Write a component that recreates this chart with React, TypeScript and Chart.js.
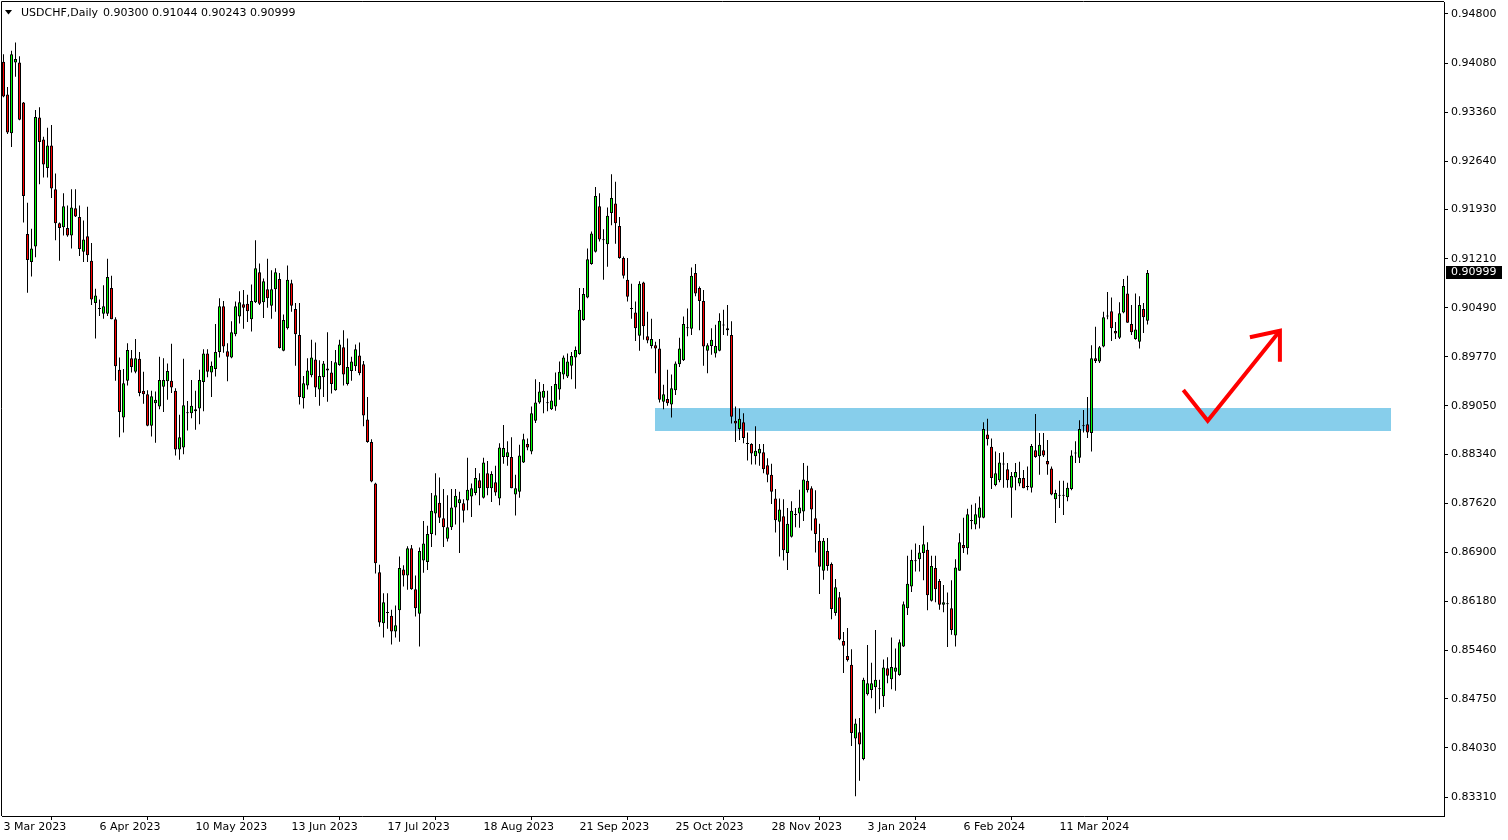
import React, { useEffect, useRef } from 'react';
import { Chart, registerables } from 'chart.js';

Chart.register(...registerables);

const symbolName = 'USDCHF,Daily';

const openP = [
  0.9410, 0.9362, 0.9305, 0.9409, 0.9409, 0.9350, 0.9157, 0.9116, 0.9139, 0.9328,
  0.9296, 0.9254, 0.9287, 0.9223, 0.9173, 0.9167, 0.9166, 0.9155, 0.9195, 0.9182,
  0.9131, 0.9154, 0.9118, 0.9056, 0.9048, 0.9040, 0.9040, 0.9078, 0.9032, 0.8958,
  0.8888, 0.8942, 0.8975, 0.8955, 0.8974, 0.8927, 0.8922, 0.8876, 0.8909, 0.8904,
  0.8933, 0.8941, 0.8942, 0.8927, 0.8841, 0.8844, 0.8895, 0.8894, 0.8900, 0.8901,
  0.8940, 0.8982, 0.8954, 0.8959, 0.8984, 0.9051, 0.8985, 0.8976, 0.9010, 0.9036,
  0.9054, 0.9055, 0.9032, 0.9057, 0.9101, 0.9057, 0.9076, 0.9052, 0.9076, 0.9091,
  0.8986, 0.9019, 0.9085, 0.9047, 0.9009, 0.8916, 0.8935, 0.8950, 0.8973, 0.8929,
  0.8947, 0.8960, 0.8954, 0.8928, 0.8965, 0.8991, 0.8937, 0.8956, 0.8963, 0.8979,
  0.8966, 0.8885, 0.8852, 0.8791, 0.8661, 0.8586, 0.8602, 0.8597, 0.8574, 0.8605,
  0.8665, 0.8656, 0.8696, 0.8636, 0.8600, 0.8678, 0.8676, 0.8717, 0.8747, 0.8763,
  0.8740, 0.8710, 0.8727, 0.8756, 0.8762, 0.8762, 0.8766, 0.8772, 0.8777, 0.8796,
  0.8770, 0.8806, 0.8784, 0.8793, 0.8769, 0.8830, 0.8830, 0.8830, 0.8775, 0.8779,
  0.8822, 0.8849, 0.8838, 0.8883, 0.8910, 0.8917, 0.8909, 0.8900, 0.8904, 0.8929,
  0.8951, 0.8948, 0.8964, 0.8976, 0.8981, 0.9031, 0.9064, 0.9113, 0.9131, 0.9198,
  0.9149, 0.9142, 0.9188, 0.9202, 0.9169, 0.9122, 0.9090, 0.9048, 0.9042, 0.9008,
  0.9086, 0.9007, 0.8993, 0.8994, 0.8989, 0.8911, 0.8915, 0.8907, 0.8928, 0.8966,
  0.8972, 0.9019, 0.9018, 0.9100, 0.9078, 0.9059, 0.8986, 0.8993, 0.8982, 0.8986,
  0.9024, 0.9019, 0.9009, 0.8883, 0.8871, 0.8881, 0.8850, 0.8849, 0.8831, 0.8835,
  0.8837, 0.8818, 0.8804, 0.8769, 0.8735, 0.8743, 0.8689, 0.8713, 0.8746, 0.8747,
  0.8750, 0.8795, 0.8784, 0.8740, 0.8707, 0.8663, 0.8692, 0.8673, 0.8601, 0.8624,
  0.8560, 0.8538, 0.8525, 0.8417, 0.8426, 0.8387, 0.8482, 0.8488, 0.8492, 0.8489,
  0.8479, 0.8520, 0.8504, 0.8515, 0.8510, 0.8552, 0.8608, 0.8640, 0.8678, 0.8680,
  0.8689, 0.8694, 0.8619, 0.8667, 0.8648, 0.8613, 0.8614, 0.8608, 0.8568, 0.8663,
  0.8701, 0.8696, 0.8736, 0.8731, 0.8741, 0.8741, 0.8863, 0.8845, 0.8789, 0.8796,
  0.8819, 0.8812, 0.8785, 0.8800, 0.8791, 0.8799, 0.8787, 0.8785, 0.8840, 0.8831,
  0.8840, 0.8824, 0.8813, 0.8768, 0.8773, 0.8774, 0.8771, 0.8783, 0.8835, 0.8829,
  0.8875, 0.8878, 0.8865, 0.8975, 0.8970, 0.8992, 0.9036, 0.9044, 0.9015, 0.9005,
  0.9042, 0.9070, 0.9025, 0.9003, 0.8999, 0.9047, 0.90300,
];

const highP = [
  0.9421, 0.9373, 0.9426, 0.9438, 0.9418, 0.9351, 0.9203, 0.9165, 0.9339, 0.9343,
  0.9300, 0.9313, 0.9317, 0.9246, 0.9174, 0.9217, 0.9199, 0.9223, 0.9223, 0.9199,
  0.9177, 0.9197, 0.9144, 0.9077, 0.9061, 0.9082, 0.9121, 0.9096, 0.9035, 0.8976,
  0.8959, 0.8997, 0.8987, 0.9003, 0.8984, 0.8955, 0.8928, 0.8927, 0.8926, 0.8977,
  0.8975, 0.8967, 0.8996, 0.8931, 0.8892, 0.8974, 0.8912, 0.8943, 0.8927, 0.8958,
  0.8988, 0.8988, 0.8970, 0.9025, 0.9063, 0.9059, 0.8997, 0.9029, 0.9058, 0.9073,
  0.9075, 0.9068, 0.9083, 0.9148, 0.9114, 0.9092, 0.9121, 0.9104, 0.9107, 0.9100,
  0.9039, 0.9111, 0.9090, 0.9056, 0.9056, 0.8949, 0.8975, 0.9002, 0.8998, 0.8972,
  0.8971, 0.9013, 0.8971, 0.8987, 0.9002, 0.9016, 0.9004, 0.8977, 0.8995, 0.8998,
  0.8971, 0.8918, 0.8856, 0.8792, 0.8672, 0.8630, 0.8630, 0.8606, 0.8612, 0.8684,
  0.8671, 0.8699, 0.8701, 0.8656, 0.8697, 0.8736, 0.8729, 0.8777, 0.8806, 0.8800,
  0.8783, 0.8774, 0.8783, 0.8783, 0.8779, 0.8768, 0.8829, 0.8791, 0.8814, 0.8806,
  0.8829, 0.8824, 0.8809, 0.8817, 0.8850, 0.8877, 0.8853, 0.8859, 0.8804, 0.8848,
  0.8864, 0.8857, 0.8904, 0.8944, 0.8940, 0.8937, 0.8927, 0.8934, 0.8954, 0.8970,
  0.8979, 0.8982, 0.8984, 0.8992, 0.9078, 0.9078, 0.9136, 0.9161, 0.9226, 0.9217,
  0.9164, 0.9196, 0.9245, 0.9234, 0.9182, 0.9124, 0.9122, 0.9084, 0.9058, 0.9088,
  0.9087, 0.9043, 0.9033, 0.8999, 0.9003, 0.8936, 0.8958, 0.8951, 0.8970, 0.9005,
  0.9036, 0.9048, 0.9108, 0.9113, 0.9080, 0.9075, 0.8997, 0.9019, 0.9024, 0.9041,
  0.9046, 0.9053, 0.9029, 0.8904, 0.8901, 0.8894, 0.8866, 0.8850, 0.8875, 0.8849,
  0.8849, 0.8828, 0.8820, 0.8783, 0.8769, 0.8768, 0.8755, 0.8765, 0.8755, 0.8782,
  0.8821, 0.8817, 0.8787, 0.8781, 0.8732, 0.8711, 0.8711, 0.8675, 0.8651, 0.8632,
  0.8573, 0.8579, 0.8548, 0.8446, 0.8447, 0.8506, 0.8554, 0.8528, 0.8576, 0.8503,
  0.8533, 0.8536, 0.8565, 0.8549, 0.8562, 0.8618, 0.8685, 0.8694, 0.8703, 0.8701,
  0.8729, 0.8705, 0.8685, 0.8685, 0.8651, 0.8642, 0.8631, 0.8649, 0.8680, 0.8718,
  0.8741, 0.8754, 0.8760, 0.8762, 0.8772, 0.8881, 0.8886, 0.8857, 0.8838, 0.8836,
  0.8837, 0.8821, 0.8808, 0.8821, 0.8823, 0.8811, 0.8816, 0.8849, 0.8893, 0.8865,
  0.8865, 0.8855, 0.8816, 0.8782, 0.8795, 0.8795, 0.8792, 0.8840, 0.8853, 0.8884,
  0.8899, 0.8918, 0.8994, 0.9021, 0.8993, 0.9043, 0.9072, 0.9064, 0.9028, 0.9057,
  0.9091, 0.9096, 0.9053, 0.9070, 0.9066, 0.9056, 0.91044,
];

const lowP = [
  0.9358, 0.9304, 0.9285, 0.9388, 0.9324, 0.9174, 0.9071, 0.9095, 0.9123, 0.9230,
  0.9240, 0.9240, 0.9210, 0.9148, 0.9118, 0.9155, 0.9153, 0.9136, 0.9182, 0.9125,
  0.9116, 0.9116, 0.9053, 0.9004, 0.9037, 0.9033, 0.9037, 0.9032, 0.8942, 0.8859,
  0.8866, 0.8935, 0.8954, 0.8953, 0.8919, 0.8908, 0.8875, 0.8860, 0.8851, 0.8900,
  0.8896, 0.8914, 0.8924, 0.8832, 0.8826, 0.8834, 0.8869, 0.8887, 0.8870, 0.8878,
  0.8897, 0.8947, 0.8918, 0.8948, 0.8976, 0.8983, 0.8941, 0.8975, 0.9007, 0.9026,
  0.9018, 0.9028, 0.9014, 0.9056, 0.9053, 0.9034, 0.9049, 0.9033, 0.9043, 0.8989,
  0.8985, 0.9017, 0.9043, 0.8964, 0.8907, 0.8901, 0.8929, 0.8947, 0.8918, 0.8905,
  0.8918, 0.8911, 0.8923, 0.8927, 0.8964, 0.8935, 0.8935, 0.8942, 0.8956, 0.8950,
  0.8875, 0.8851, 0.8793, 0.8659, 0.8581, 0.8565, 0.8578, 0.8555, 0.8565, 0.8559,
  0.8640, 0.8635, 0.8635, 0.8596, 0.8552, 0.8660, 0.8664, 0.8698, 0.8715, 0.8733,
  0.8698, 0.8706, 0.8723, 0.8731, 0.8689, 0.8734, 0.8752, 0.8742, 0.8774, 0.8759,
  0.8769, 0.8774, 0.8764, 0.8773, 0.8759, 0.8820, 0.8817, 0.8784, 0.8744, 0.8770,
  0.8821, 0.8840, 0.8834, 0.8880, 0.8908, 0.8894, 0.8897, 0.8899, 0.8898, 0.8914,
  0.8944, 0.8946, 0.8944, 0.8930, 0.8980, 0.9030, 0.9063, 0.9112, 0.9130, 0.9146,
  0.9090, 0.9109, 0.9170, 0.9143, 0.9121, 0.9092, 0.9058, 0.9033, 0.9000, 0.8986,
  0.9002, 0.8997, 0.8989, 0.8953, 0.8910, 0.8900, 0.8905, 0.8888, 0.8921, 0.8962,
  0.8971, 0.9007, 0.9009, 0.9066, 0.9016, 0.8964, 0.8953, 0.8980, 0.8976, 0.8985,
  0.9009, 0.9008, 0.8879, 0.8852, 0.8855, 0.8850, 0.8825, 0.8819, 0.8819, 0.8817,
  0.8806, 0.8793, 0.8761, 0.8719, 0.8684, 0.8678, 0.8664, 0.8712, 0.8727, 0.8726,
  0.8736, 0.8778, 0.8722, 0.8690, 0.8629, 0.8650, 0.8663, 0.8592, 0.8597, 0.8561,
  0.8513, 0.8530, 0.8406, 0.8332, 0.8355, 0.8385, 0.8480, 0.8476, 0.8454, 0.8460,
  0.8463, 0.8498, 0.8489, 0.8487, 0.8509, 0.8551, 0.8598, 0.8632, 0.8662, 0.8662,
  0.8649, 0.8605, 0.8618, 0.8617, 0.8606, 0.8602, 0.8551, 0.8569, 0.8552, 0.8663,
  0.8689, 0.8687, 0.8724, 0.8724, 0.8725, 0.8740, 0.8847, 0.8783, 0.8787, 0.8793,
  0.8785, 0.8785, 0.8741, 0.8781, 0.8787, 0.8784, 0.8781, 0.8778, 0.8829, 0.8804,
  0.8830, 0.8804, 0.8774, 0.8733, 0.8755, 0.8745, 0.8765, 0.8781, 0.8821, 0.8821,
  0.8866, 0.8858, 0.8838, 0.8968, 0.8968, 0.8991, 0.9032, 0.9000, 0.9003, 0.9003,
  0.9041, 0.9027, 0.9009, 0.9002, 0.8989, 0.9012, 0.90243,
];

const closeP = [
  0.9359, 0.9306, 0.9421, 0.9414, 0.9325, 0.9213, 0.9119, 0.9136, 0.9329, 0.9292,
  0.9259, 0.9287, 0.9224, 0.9173, 0.9166, 0.9198, 0.9155, 0.9196, 0.9183, 0.9135,
  0.9149, 0.9126, 0.9061, 0.9067, 0.9047, 0.9051, 0.9094, 0.9032, 0.8963, 0.8896,
  0.8938, 0.8987, 0.8962, 0.8975, 0.8924, 0.8922, 0.8876, 0.8919, 0.8914, 0.8943,
  0.8943, 0.8956, 0.8932, 0.8841, 0.8859, 0.8906, 0.8894, 0.8905, 0.8897, 0.8943,
  0.8982, 0.8955, 0.8964, 0.8984, 0.9051, 0.8992, 0.8977, 0.9013, 0.9051, 0.9057,
  0.9049, 0.9044, 0.9059, 0.9107, 0.9055, 0.9088, 0.9063, 0.9076, 0.9101, 0.8990,
  0.9031, 0.9090, 0.9052, 0.9010, 0.8918, 0.8938, 0.8957, 0.8976, 0.8932, 0.8949,
  0.8967, 0.8957, 0.8937, 0.8969, 0.8995, 0.8951, 0.8962, 0.8970, 0.8988, 0.8953,
  0.8891, 0.8852, 0.8794, 0.8674, 0.8587, 0.8617, 0.8601, 0.8574, 0.8583, 0.8667,
  0.8656, 0.8696, 0.8636, 0.8608, 0.8692, 0.8703, 0.8717, 0.8751, 0.8774, 0.8741,
  0.8727, 0.8727, 0.8756, 0.8773, 0.8768, 0.8751, 0.8782, 0.8784, 0.8799, 0.8784,
  0.8822, 0.8784, 0.8805, 0.8778, 0.8844, 0.8843, 0.8837, 0.8784, 0.8784, 0.8832,
  0.8856, 0.8844, 0.8894, 0.8910, 0.8926, 0.8927, 0.8910, 0.8913, 0.8937, 0.8955,
  0.8976, 0.8970, 0.8978, 0.8987, 0.9046, 0.9069, 0.9120, 0.9158, 0.9213, 0.9149,
  0.9148, 0.9184, 0.9210, 0.9173, 0.9122, 0.9096, 0.9065, 0.9047, 0.9019, 0.9084,
  0.9022, 0.9001, 0.9003, 0.8989, 0.8914, 0.8922, 0.8909, 0.8931, 0.8967, 0.8989,
  0.9025, 0.9020, 0.9096, 0.9070, 0.9059, 0.8992, 0.8994, 0.9002, 0.8993, 0.9030,
  0.9023, 0.9016, 0.8889, 0.8879, 0.8886, 0.8858, 0.8849, 0.8835, 0.8839, 0.8842,
  0.8812, 0.8804, 0.8779, 0.8737, 0.8753, 0.8693, 0.8732, 0.8751, 0.8745, 0.8756,
  0.8797, 0.8781, 0.8753, 0.8717, 0.8669, 0.8707, 0.8670, 0.8607, 0.8639, 0.8562,
  0.8553, 0.8532, 0.8425, 0.8439, 0.8408, 0.8503, 0.8498, 0.8498, 0.8503, 0.8489,
  0.8521, 0.8509, 0.8522, 0.8521, 0.8558, 0.8614, 0.8644, 0.8679, 0.8677, 0.8690,
  0.8702, 0.8627, 0.8670, 0.8636, 0.8613, 0.8617, 0.8614, 0.8576, 0.8668, 0.8705,
  0.8696, 0.8746, 0.8737, 0.8746, 0.8756, 0.8871, 0.8856, 0.8799, 0.8806, 0.8822,
  0.8820, 0.8796, 0.8802, 0.8808, 0.8799, 0.8784, 0.8786, 0.8846, 0.8830, 0.8848,
  0.8832, 0.8819, 0.8775, 0.8777, 0.8774, 0.8773, 0.8785, 0.8832, 0.8836, 0.8871,
  0.8876, 0.8866, 0.8975, 0.8971, 0.8991, 0.9035, 0.9036, 0.9019, 0.9011, 0.9041,
  0.9081, 0.9027, 0.9013, 0.9017, 0.9053, 0.9035, 0.90999,
];

// date labels sit on every 24th bar
const dateTickIndex = [0, 24, 48, 72, 96, 120, 144, 168, 192, 216, 240, 264];
const dateTickLabels = [
  '3 Mar 2023', '6 Apr 2023', '10 May 2023', '13 Jun 2023', '17 Jul 2023', '18 Aug 2023',
  '21 Sep 2023', '25 Oct 2023', '28 Nov 2023', '3 Jan 2024', '6 Feb 2024', '11 Mar 2024',
];

const priceTicks = [
  0.948, 0.9408, 0.9336, 0.9264, 0.9193, 0.9121, 0.9049, 0.8977, 0.8905,
  0.8834, 0.8762, 0.869, 0.8618, 0.8546, 0.8475, 0.8403, 0.8331,
];

// support zone (bar index range, price range)
const zoneX = [162.875, 346.8];
const zoneY = [0.88671, 0.89014];

// red check-mark arrow (bar index, price)
const checkX = [294.95, 301.05, 319.1];
const checkY = [0.89283, 0.88832, 0.90153];
const headX = [311.6, 319.1, 319.1];
const headY = [0.90056, 0.90153, 0.89698];

const X_MIN = -0.375;
const X_MAX = 360.125;
const Y_MAX = 0.9497608;
const Y_MIN = 0.8303184;

const UP = '#00ff00';
const DOWN = '#ff0000';
const FONT = '"DejaVu Sans", Verdana, sans-serif';

export default function App() {
  const ref = useRef<HTMLCanvasElement>(null);

  useEffect(() => {
    const canvas = ref.current;
    if (!canvas) return;

    const wickData = openP.map((_, i) => ({ x: i, y: [lowP[i], highP[i]] }));
    const bodyData = openP.map((o, i) => ({ x: i, y: [o, closeP[i]] }));
    const bodyColors = openP.map((o, i) => (closeP[i] > o ? UP : DOWN));
    const last = openP.length - 1;

    const decor = {
      id: 'mtDecor',
      beforeDatasetsDraw(chart: any) {
        const { ctx, chartArea, scales } = chart;
        const xs = scales.x;
        const ys = scales.y;
        ctx.save();
        ctx.beginPath();
        ctx.rect(chartArea.left, chartArea.top, chartArea.right - chartArea.left, chartArea.bottom - chartArea.top);
        ctx.clip();
        const x0 = xs.getPixelForValue(zoneX[0]);
        const x1 = xs.getPixelForValue(zoneX[1]);
        const yT = ys.getPixelForValue(zoneY[1]);
        const yB = ys.getPixelForValue(zoneY[0]);
        ctx.fillStyle = '#87ceeb';
        ctx.fillRect(Math.round(x0), Math.round(yT), Math.round(x1 - x0), Math.round(yB - yT));
        ctx.restore();
      },
      afterDraw(chart: any) {
        const { ctx, chartArea, scales } = chart;
        const ys = scales.y;
        ctx.save();
        // frame left/top
        ctx.strokeStyle = '#000';
        ctx.lineWidth = 1;
        ctx.beginPath();
        ctx.moveTo(1.5, chartArea.bottom);
        ctx.lineTo(1.5, 1.5);
        ctx.lineTo(chartArea.right, 1.5);
        ctx.stroke();

        // header
        ctx.fillStyle = '#000';
        ctx.beginPath();
        ctx.moveTo(5, 10);
        ctx.lineTo(12, 10);
        ctx.lineTo(8.5, 14.5);
        ctx.closePath();
        ctx.fill();
        ctx.font = '11px ' + FONT;
        ctx.textBaseline = 'middle';
        ctx.textAlign = 'left';
        ctx.fillText(symbolName, 21, 13);
        const ohlc = [openP[last], highP[last], lowP[last], closeP[last]].map(v => v.toFixed(5)).join(' ');
        ctx.fillText(ohlc, 103, 13);

        // current price label
        const py = ys.getPixelForValue(closeP[last]);
        const top = Math.round(py - 7);
        ctx.fillStyle = '#000';
        ctx.fillRect(1446, top, 56, 13);
        ctx.fillStyle = '#fff';
        ctx.fillText(closeP[last].toFixed(5), 1451, top + 6.5);
        ctx.restore();
      },
    };

    const chart = new Chart(canvas, {
      type: 'bar',
      data: {
        datasets: [
          {
            type: 'line',
            data: checkX.map((x, i) => ({ x, y: checkY[i] })),
            borderColor: '#ff0000',
            borderWidth: 4,
            pointRadius: 0,
            tension: 0,
            borderJoinStyle: 'miter',
            borderCapStyle: 'butt',
            order: 0,
          },
          {
            type: 'line',
            data: headX.map((x, i) => ({ x, y: headY[i] })),
            borderColor: '#ff0000',
            borderWidth: 4,
            pointRadius: 0,
            tension: 0,
            borderJoinStyle: 'miter',
            borderCapStyle: 'butt',
            order: 0,
          },
          {
            type: 'bar',
            data: bodyData,
            backgroundColor: bodyColors,
            borderColor: '#000',
            borderWidth: 1,
            borderSkipped: false,
            barThickness: 3,
            grouped: false,
            minBarLength: 1,
            inflateAmount: 0,
            order: 1,
          },
          {
            type: 'bar',
            data: wickData,
            backgroundColor: '#000',
            borderWidth: 0,
            barThickness: 1,
            grouped: false,
            inflateAmount: 0,
            order: 2,
          },
        ],
      } as any,
      options: {
        responsive: false,
        maintainAspectRatio: false,
        devicePixelRatio: 1,
        animation: false,
        events: [],
        layout: { padding: { left: 2, top: 2, right: 0, bottom: 0 }, autoPadding: false },
        plugins: {
          legend: { display: false },
          tooltip: { enabled: false },
          title: { display: false },
        },
        scales: {
          x: {
            type: 'linear',
            position: 'bottom',
            min: X_MIN,
            max: X_MAX,
            offset: false,
            bounds: 'data',
            afterBuildTicks: (s: any) => {
              s.ticks = dateTickIndex.map(v => ({ value: v }));
            },
            afterFit: (s: any) => {
              s.height = 24;
              s.paddingLeft = 0;
              s.paddingRight = 0;
            },
            grid: {
              drawOnChartArea: false,
              drawTicks: true,
              tickLength: 4,
              tickColor: '#000',
              color: '#000',
            },
            border: { display: true, color: '#000', width: 1 },
            ticks: {
              autoSkip: false,
              maxRotation: 0,
              minRotation: 0,
              align: 'start',
              padding: 1,
              color: '#000',
              font: { family: FONT, size: 11 },
              callback: (v: any) => {
                const k = dateTickIndex.indexOf(Number(v));
                return k >= 0 ? dateTickLabels[k] : '';
              },
            },
          },
          y: {
            type: 'linear',
            position: 'right',
            min: Y_MIN,
            max: Y_MAX,
            beginAtZero: false,
            bounds: 'data',
            afterBuildTicks: (s: any) => {
              s.ticks = priceTicks.map(v => ({ value: v }));
            },
            afterFit: (s: any) => {
              s.width = 64;
              s.paddingTop = 0;
              s.paddingBottom = 0;
            },
            grid: {
              drawOnChartArea: false,
              drawTicks: true,
              tickLength: 4,
              tickColor: '#000',
              color: '#000',
            },
            border: { display: true, color: '#000', width: 1 },
            ticks: {
              autoSkip: false,
              padding: 3,
              color: '#000',
              font: { family: FONT, size: 11 },
              callback: (v: any) => Number(v).toFixed(5),
            },
          },
        },
      } as any,
      plugins: [decor],
    });

    return () => chart.destroy();
  }, []);

  return (
    <div style={{ position: 'absolute', left: 0, top: 0, width: 1508, height: 840, background: '#fff' }}>
      <canvas ref={ref} width={1508} height={840} style={{ display: 'block', width: 1508, height: 840 }} />
    </div>
  );
}
